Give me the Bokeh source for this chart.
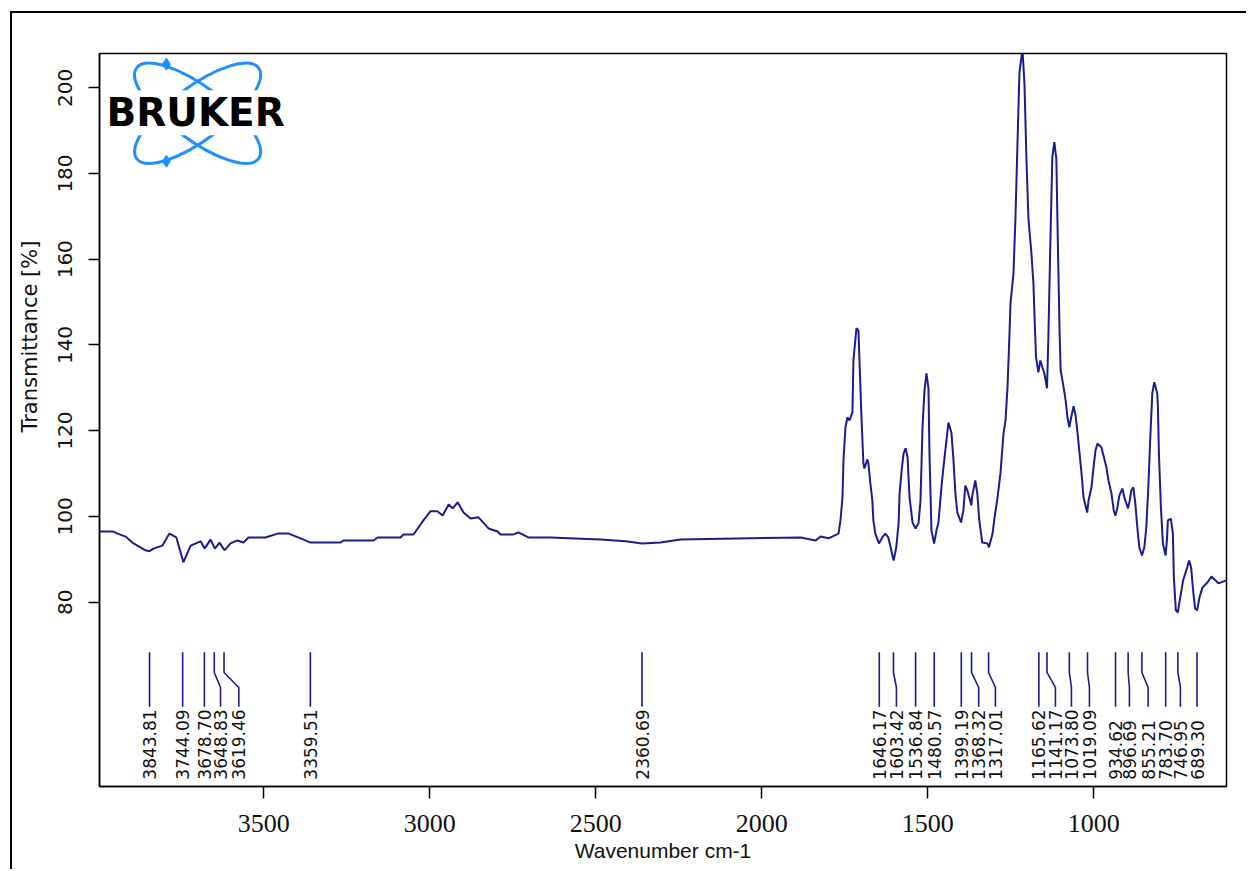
import math
from bokeh.plotting import figure
from bokeh.models import Range1d, FixedTicker, Label
from bokeh.core.properties import value
from bokeh.embed import file_html
from bokeh.resources import INLINE

# IR spectrum (wavenumber in cm-1, transmittance in %)
wavenumber = [
    3995, 3955, 3940, 3916, 3892, 3856, 3844, 3832, 3805, 3784, 3763, 3742, 3720,
    3690, 3678, 3660, 3647, 3633, 3618, 3600, 3579, 3561, 3546, 3495, 3458, 3425,
    3389, 3359, 3269, 3260, 3169, 3157, 3088, 3079, 3049, 3019, 2998, 2977, 2961,
    2943, 2931, 2916, 2898, 2877, 2853, 2823, 2796, 2787, 2748, 2733, 2703, 2666,
    2636, 2486, 2410, 2361, 2305, 2245, 2034, 1883, 1838, 1823, 1799, 1769,
    1763, 1757, 1754, 1748, 1742, 1736, 1727, 1724, 1715, 1709, 1706, 1700, 1694,
    1691, 1682, 1679, 1673, 1667, 1664, 1658, 1647, 1637, 1628, 1619, 1610, 1603,
    1595, 1588, 1585, 1579, 1573, 1567, 1561, 1555, 1546, 1537, 1528, 1522, 1516,
    1510, 1504, 1498, 1495, 1489, 1481, 1474, 1468, 1459, 1453, 1444, 1438, 1429,
    1423, 1417, 1411, 1400, 1393, 1387, 1381, 1369, 1366, 1357, 1351, 1345, 1336,
    1320, 1316, 1305, 1299, 1290, 1281, 1272, 1266, 1260, 1254, 1251, 1242, 1236,
    1230, 1224, 1215, 1209, 1203, 1197, 1188, 1182, 1178, 1174, 1167, 1161, 1155,
    1149, 1141, 1137, 1131, 1125, 1119, 1113, 1108, 1103, 1100, 1091, 1085, 1079,
    1074, 1067, 1061, 1055, 1049, 1043, 1037, 1031, 1020, 1016, 1007, 1001, 995,
    989, 977, 971, 962, 956, 947, 940, 935, 929, 923, 914, 908, 897, 892, 887, 881,
    875, 869, 863, 855, 848, 842, 836, 830, 824, 818, 809, 807, 804, 798, 792, 784,
    780, 777, 768, 762, 759, 753, 747, 738, 731, 719, 713, 707, 701, 695, 689, 682,
    673, 658, 646, 634, 625, 601,
]
transmittance = [
    96.5, 96.5, 96.0, 95.3, 93.7, 92.1, 91.9, 92.5, 93.2, 96.0, 95.1, 89.3, 93.2,
    94.2, 92.5, 94.6, 92.5, 93.9, 92.1, 93.7, 94.4, 93.9, 95.1, 95.1, 96.0, 96.0,
    94.9, 93.9, 93.9, 94.4, 94.4, 95.1, 95.1, 95.8, 95.8, 99.1, 101.2, 101.2, 100.2,
    102.8, 101.9, 103.3, 100.9, 99.5, 99.8, 97.2, 96.5, 95.8, 95.8, 96.3, 95.1, 95.1,
    95.1, 94.6, 94.2, 93.7, 93.9, 94.6, 94.9, 95.1, 94.4, 95.3, 94.9, 96.0,
    99.1, 104.4, 113.1, 120.8, 123.1, 122.4, 124.3, 136.4, 143.9, 143.4, 136.9, 123.6, 112.4,
    111.2, 113.3, 112.4, 107.7, 103.7, 99.1, 96.0, 93.7, 95.1, 96.0, 95.1, 92.1, 89.7,
    92.8, 98.4, 105.4, 110.7, 114.7, 115.9, 113.8, 104.4, 98.6, 97.2, 98.4, 103.7, 120.8,
    129.4, 133.4, 129.9, 114.7, 96.7, 93.7, 96.7, 98.6, 106.8, 111.4, 117.7, 121.9, 119.6,
    113.5, 105.4, 100.9, 98.6, 101.4, 107.2, 106.1, 102.6, 104.9, 108.4, 105.4, 99.1, 93.9,
    93.7, 92.8, 96.0, 99.8, 104.4, 110.3, 119.4, 122.4, 130.1, 142.7, 149.7, 156.7, 169.8,
    187.0, 203.6, 209.0, 201.1, 183.5, 169.5, 161.4, 154.4, 145.3, 137.1, 133.6, 136.4, 134.8,
    133.4, 129.9, 141.7, 163.7, 183.8, 187.3, 183.5, 162.1, 142.7, 134.1, 130.1, 127.1, 122.9,
    120.8, 123.6, 125.7, 123.6, 119.4, 114.7, 110.0, 104.4, 100.9, 103.7, 106.8, 111.4, 115.4,
    117.0, 116.1, 114.2, 111.4, 108.4, 105.4, 101.4, 100.2, 102.1, 104.9, 106.5, 104.4, 101.9, 103.7, 106.1, 106.8,
    103.0, 97.4, 92.8, 90.9, 92.8, 97.4, 106.8, 118.4, 128.7, 131.3, 128.7, 125.4, 114.7, 102.1, 93.7, 90.9,
    94.4, 99.1, 99.5, 96.0, 85.8, 78.1, 77.6, 82.0, 85.1, 88.1, 89.7, 88.1, 82.7, 78.5, 78.1, 81.1,
    83.4, 84.6, 86.0, 85.1, 84.4, 85.1,
]

# Picked bands and the wavenumber where each label is written
peak_wn = [3843.81, 3744.09, 3678.70, 3648.83, 3619.46, 3359.51, 2360.69,
           1646.17, 1603.42, 1536.84, 1480.57, 1399.19, 1368.32, 1317.01,
           1165.62, 1141.17, 1073.80, 1019.09, 934.62, 896.69, 855.21,
           783.70, 746.95, 689.30]
label_wn = [3843.81, 3744.09, 3678.70, 3630.0, 3575.0, 3359.51, 2360.69,
            1646.17, 1594.5, 1536.84, 1480.57, 1399.19, 1346.7, 1296.4,
            1165.62, 1115.7, 1067.5, 1013.3, 934.62, 892.9, 836.6,
            783.70, 739.3, 689.30]
peak_text = ["%.2f" % w for w in peak_wn]

x_ticks = [3500, 3000, 2500, 2000, 1500, 1000]
y_ticks = [80, 100, 120, 140, 160, 180, 200]

LINE = "#1c1c8c"
LOGO = "#1e8fff"

p = figure(width=1236, height=858, output_backend="svg", toolbar_location=None,
           x_range=Range1d(3994.5, 600.5), y_range=Range1d(37.0, 208.0),
           min_border_left=87, min_border_right=22, min_border_top=40,
           min_border_bottom=85,
           styles={"margin-left": "10px", "margin-top": "11px",
                   "border-left": "2px solid #000", "border-top": "2px solid #000"})
p.xgrid.visible = False
p.ygrid.visible = False
p.outline_line_color = "black"
p.outline_line_width = 1.5
p.background_fill_color = "white"
p.border_fill_color = "white"

# axes
for ax in (p.xaxis[0], p.yaxis[0]):
    ax.axis_line_color = "black"
    ax.axis_line_width = 1.5
    ax.major_tick_line_color = "black"
    ax.major_tick_line_width = 1.5
    ax.minor_tick_line_color = None
    ax.major_tick_in = 0
    ax.major_label_text_color = "#111111"
    ax.axis_label_text_color = "#111111"
    ax.axis_label_text_font_style = "normal"

p.xaxis.ticker = FixedTicker(ticks=x_ticks)
p.xaxis.major_tick_out = 12
p.xaxis.major_label_text_font = "Liberation Sans Narrow"
p.xaxis.major_label_text_font_size = "26px"
p.xaxis.major_label_standoff = 16
p.xaxis.axis_label = "Wavenumber cm-1"
p.xaxis.axis_label_text_font = "Liberation Sans"
p.xaxis.axis_label_text_font_size = "21px"
p.xaxis.axis_label_standoff = 4

p.yaxis.ticker = FixedTicker(ticks=y_ticks)
p.yaxis.major_tick_out = 11
p.yaxis.major_label_orientation = "vertical"
p.yaxis.major_label_text_font = "DejaVu Sans"
p.yaxis.major_label_text_font_size = "20px"
p.yaxis.major_label_standoff = 16
# leading no-break spaces lift the title level with the spectrum, above the peak table
p.yaxis.axis_label = "\u00a0" * 25 + "Transmittance [%]"
p.yaxis.axis_label_text_font = "DejaVu Sans"
p.yaxis.axis_label_text_font_size = "21px"
p.yaxis.axis_label_standoff = 14

# spectrum
p.line(wavenumber, transmittance, line_color=LINE, line_width=2)

# peak pick markers: straight down from the band, jog over to the label slot
Y_TOP, Y_BEND1, Y_BEND2, Y_BOTTOM, Y_TEXT = 68.3, 63.6, 60.1, 55.6, 38.6
xs = [[w, w, lw, lw] for w, lw in zip(peak_wn, label_wn)]
ys = [[Y_TOP, Y_BEND1, Y_BEND2, Y_BOTTOM] for _ in peak_wn]
p.multi_line(xs, ys, line_color=LINE, line_width=1.6)
p.text(x=label_wn, y=Y_TEXT, text=peak_text, angle=math.pi / 2,
       text_align="left", text_baseline="middle",
       text_font=value("DejaVu Sans"), text_font_size="17px", text_color="#111111")

# Bruker logo
LOGO_X, LOGO_Y = 3699, 194.05
p.ellipse(x=[LOGO_X, LOGO_X], y=[LOGO_Y, LOGO_Y], width=152, height=53,
          width_units="screen", height_units="screen",
          angle=[0.64, -0.64], fill_color=None, line_color=LOGO, line_width=3)
p.scatter(x=[3793, 3793], y=[205.5, 182.85], marker="diamond", size=12,
          fill_color=LOGO, line_color=LOGO)
p.add_layout(Label(x=3705, y=194.2, text="BRUKER", text_align="center",
                   text_baseline="middle", text_font="DejaVu Sans",
                   text_font_size="39px", text_font_style="bold",
                   text_color="black", background_fill_color="white"))

open("out.html", "w").write(file_html(p, INLINE))
